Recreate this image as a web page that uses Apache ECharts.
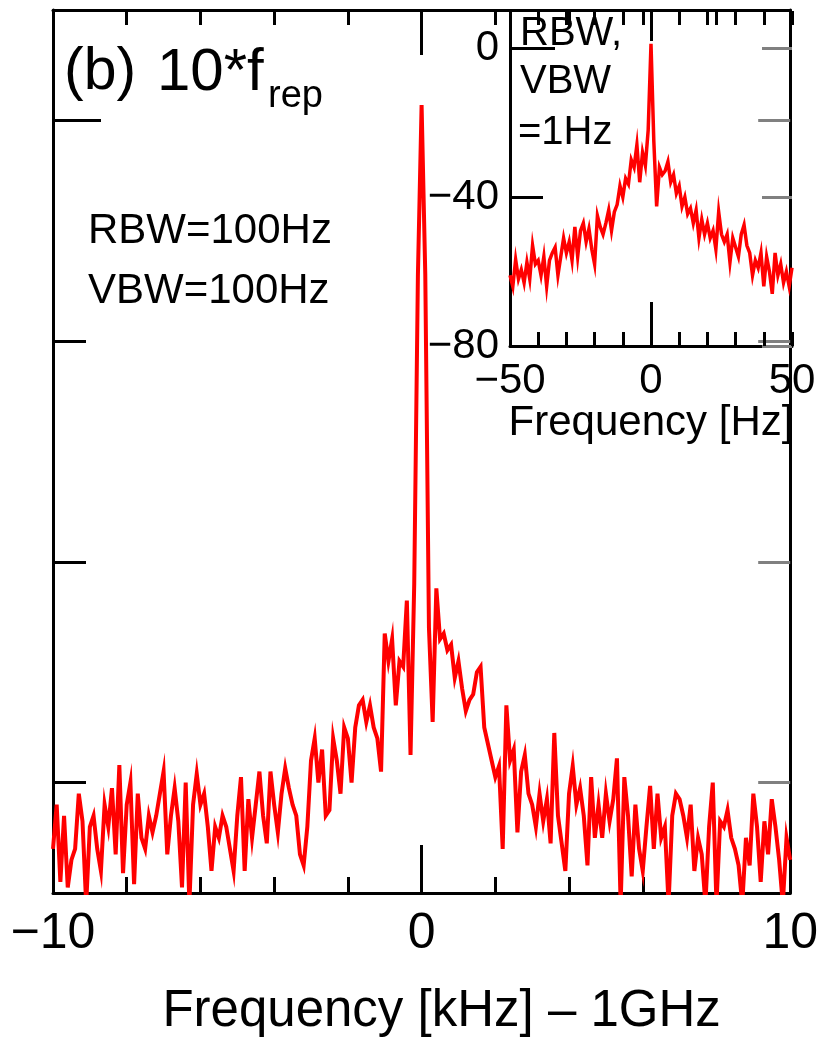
<!DOCTYPE html>
<html>
<head>
<meta charset="utf-8">
<script src="https://cdn.jsdelivr.net/npm/echarts@6/dist/echarts.min.js"></script>
<style>
  html, body { margin: 0; padding: 0; background: #fff; }
  #chart { width: 821px; height: 1042px; }
</style>
</head>
<body>
<div id="chart"></div>
<script>
var chart = echarts.init(document.getElementById('chart'));

// main trace: level (dB) sampled every 0.1 kHz from -10 kHz
var mainStartKHz = -10;
var mainStepKHz = 0.1;
var mainLevelDb = [
    -66, -62, -69, -63, -69.5, -67, -66, -61, -63.5, -71,
    -64, -63, -66, -68, -62, -64, -60.5, -66.5, -58.4, -68.2,
    -62, -60, -69.2, -61, -65, -66, -63, -64.5, -63, -61,
    -59, -66.5, -63, -60.5, -63.5, -69.5, -60, -71, -62, -59.2,
    -62, -61, -64, -68, -64, -65, -63, -64, -66, -68,
    -63, -59.5, -68, -61.5, -65, -62, -59, -63, -65.5, -59,
    -62, -64.5, -61, -58.7, -60.5, -62, -63, -66.5, -67.5, -64,
    -58, -56, -60, -57, -63, -62.5, -56, -58, -61, -55,
    -56, -60, -55, -53, -52.5, -54.5, -53, -55, -56, -59,
    -46.5, -49, -47, -53, -49, -49.5, -43.5, -57.5, -42, -14,
    1.4, -14, -46, -54.5, -42.4, -47, -46.5, -48, -47.5, -50.5,
    -49, -51.5, -53.5, -52.5, -52, -50, -49.5, -55, -56.5, -58,
    -59.5, -58.5, -66, -53, -58, -57, -64.5, -59, -57.5, -61,
    -62, -64, -61, -63.5, -61.5, -65.5, -55.5, -63, -65.5, -68,
    -61, -58.5, -62, -60.5, -63, -67.5, -59.5, -65, -62, -65,
    -61, -63.5, -61.5, -57.8, -71, -59.5, -63, -68.5, -62, -66,
    -68, -64, -60.3, -66, -61, -65, -64, -71, -63, -61,
    -61.5, -63, -65, -62, -68, -65, -66.5, -71, -64, -60,
    -71, -63.5, -64, -62.5, -65, -66, -67.5, -71, -65, -67.5,
    -61, -64, -69, -63.5, -66.5, -61.5, -64, -67, -71, -65,
    -67
];

// inset trace: level (dB) sampled every 1 Hz from -50 Hz
var insetStartHz = -50;
var insetStepHz = 1;
var insetLevelDb = [
    -61, -64, -56.8, -62, -59.5, -63, -57.5, -62, -53, -58,
    -57, -61, -56, -64, -57, -55, -53.5, -61, -56, -51,
    -55, -52, -57, -48, -56, -49, -47, -52, -48.5, -54,
    -58, -45, -48, -50, -47, -43.5, -49, -44, -42, -37,
    -40, -35, -36.5, -30, -32, -26, -36, -28, -31.5, -22,
    1.2, -25, -42.5, -32, -34, -33, -30.5, -36, -34, -39,
    -37, -42.5, -40, -44.5, -43, -47, -43.5, -51, -46, -50,
    -47, -51, -49, -54, -44, -50, -52, -50, -57.5, -51,
    -53.5, -56, -50, -47.5, -53, -55, -61, -57, -59, -55,
    -64, -56, -60, -66, -55, -61, -58, -63, -60, -64,
    -59
];

var mainXLabels = [-10, 0, 10];
var mainYTicks = [-60, -40, -20, 0];
var insetXLabels = [-50, 0, 50];
var insetYLabels = [0, -40, -80];

var mainData = mainLevelDb.map(function (v, i) {
    return [mainStartKHz + i * mainStepKHz, v];
});
var insetData = insetLevelDb.map(function (v, i) {
    return [insetStartHz + i * insetStepHz, v];
});

var FONT = '"Liberation Sans", Arial, Helvetica, sans-serif';
var blackLine = { show: true, onZero: false, lineStyle: { color: '#000', width: 3 } };
var noLine = { show: false, onZero: false };
var noLabel = { show: false };
var noSplit = { show: false };

function minus(v) {
    return String(v).replace('-', '\u2212');
}

// extra axes that only draw a few ticks
function tickOnlyX(grid, pos, min, max, values, len) {
    return {
        type: 'value', gridIndex: grid, position: pos, min: min, max: max,
        axisLine: noLine, axisLabel: noLabel, splitLine: noSplit,
        axisTick: { show: true, inside: true, length: len, customValues: values,
            lineStyle: { color: '#000', width: 3 } }
    };
}
function tickOnlyY(grid, pos, min, max, values, len, color) {
    return {
        type: 'value', gridIndex: grid, position: pos, min: min, max: max,
        axisLine: noLine, axisLabel: noLabel, splitLine: noSplit,
        axisTick: { show: true, inside: true, length: len, customValues: values,
            lineStyle: { color: color || '#000', width: 3 } }
    };
}

option = {
    animation: false,
    backgroundColor: '#fff',
    grid: [
        { left: 53, right: 29, top: 10, bottom: 146 },
        { left: 510, right: 29, top: 11, height: 335 }
    ],
    xAxis: [
        // 0: main bottom
        {
            type: 'value', gridIndex: 0, position: 'bottom', min: -10, max: 10, interval: 2,
            axisLine: blackLine, splitLine: noSplit,
            axisTick: { inside: true, length: 16, lineStyle: { color: '#000', width: 3 } },
            axisLabel: {
                customValues: mainXLabels, fontSize: 50, fontFamily: FONT, color: '#000', margin: 16,
                formatter: minus
            },
            name: 'Frequency [kHz] \u2013 1GHz', nameLocation: 'middle', nameGap: 93,
            nameTextStyle: { fontSize: 51, fontFamily: FONT, color: '#000', padding: [0, 0, 0, 40] }
        },
        // 1: main bottom tall tick at 0
        tickOnlyX(0, 'bottom', -10, 10, [0], 48),
        // 2: main top
        {
            type: 'value', gridIndex: 0, position: 'top', min: -10, max: 10, interval: 2,
            axisLine: blackLine, splitLine: noSplit, axisLabel: noLabel,
            axisTick: { inside: true, length: 15, lineStyle: { color: '#000', width: 3 } }
        },
        // 3: main top tall tick at 0
        tickOnlyX(0, 'top', -10, 10, [0], 45),
        // 4: inset bottom
        {
            type: 'value', gridIndex: 1, position: 'bottom', min: -50, max: 50, interval: 10,
            axisLine: blackLine, splitLine: noSplit,
            axisTick: { inside: true, length: 14, lineStyle: { color: '#000', width: 3 } },
            axisLabel: {
                customValues: insetXLabels, fontSize: 42, fontFamily: FONT, color: '#000', margin: 14,
                formatter: minus
            },
            name: 'Frequency [Hz]', nameLocation: 'middle', nameGap: 51,
            nameTextStyle: { fontSize: 42, fontFamily: FONT, color: '#000' }
        },
        // 5: inset bottom tall tick at 0
        tickOnlyX(1, 'bottom', -50, 50, [0], 44),
        // 6: inset top
        {
            type: 'value', gridIndex: 1, position: 'top', min: -50, max: 50, interval: 10,
            axisLine: noLine, splitLine: noSplit, axisLabel: noLabel,
            axisTick: { inside: true, length: 14, lineStyle: { color: '#000', width: 3 } }
        },
        // 7: inset top tall tick at 0
        tickOnlyX(1, 'top', -50, 50, [0], 30)
    ],
    yAxis: [
        // 0: main left
        {
            type: 'value', gridIndex: 0, position: 'left', min: -70, max: 10,
            axisLine: blackLine, splitLine: noSplit, axisLabel: noLabel,
            axisTick: { inside: true, length: 33, customValues: [-60, -40, -20],
                lineStyle: { color: '#000', width: 3 } }
        },
        // 1: main left long tick
        tickOnlyY(0, 'left', -70, 10, [0], 48),
        // 2: main right, grey ticks
        {
            type: 'value', gridIndex: 0, position: 'right', min: -70, max: 10,
            axisLine: blackLine, splitLine: noSplit, axisLabel: noLabel,
            axisTick: { inside: true, length: 32, customValues: mainYTicks,
                lineStyle: { color: '#808080', width: 3 } }
        },
        // 3: inset left
        {
            type: 'value', gridIndex: 1, position: 'left', min: -80, max: 10,
            axisLine: blackLine, splitLine: noSplit,
            axisTick: { inside: true, length: 33, customValues: [-40],
                lineStyle: { color: '#000', width: 3 } },
            axisLabel: {
                customValues: insetYLabels, fontSize: 42, fontFamily: FONT, color: '#000', margin: 11,
                formatter: minus
            }
        },
        // 4: inset left tick at 0
        tickOnlyY(1, 'left', -80, 10, [0], 45),
        // 5: inset right, grey ticks
        tickOnlyY(1, 'right', -80, 10, [0, -40, -80], 30, '#808080')
    ],
    graphic: [
        { type: 'text', x: 64, y: 73, style: { text: '(b)', font: '59px ' + FONT, fill: '#000', textVerticalAlign: 'middle' } },
        { type: 'text', x: 157, y: 73, style: { text: '10*f', font: '60px ' + FONT, fill: '#000', textVerticalAlign: 'middle' } },
        { type: 'text', x: 268, y: 97, style: { text: 'rep', font: '38px ' + FONT, fill: '#000', textVerticalAlign: 'middle' } },
        { type: 'text', x: 88, y: 231, style: { text: 'RBW=100Hz', font: '42px ' + FONT, fill: '#000', textVerticalAlign: 'middle' } },
        { type: 'text', x: 88, y: 291, style: { text: 'VBW=100Hz', font: '42px ' + FONT, fill: '#000', textVerticalAlign: 'middle' } },
        { type: 'text', x: 520, y: 34, style: { text: 'RBW,', font: '40px ' + FONT, fill: '#000', textVerticalAlign: 'middle' } },
        { type: 'text', x: 520, y: 82, style: { text: 'VBW', font: '40px ' + FONT, fill: '#000', textVerticalAlign: 'middle' } },
        { type: 'text', x: 518, y: 133, style: { text: '=1Hz', font: '40px ' + FONT, fill: '#000', textVerticalAlign: 'middle' } }
    ],
    series: [
        {
            name: 'main', type: 'line', xAxisIndex: 0, yAxisIndex: 0,
            data: mainData, showSymbol: false, clip: true,
            lineStyle: { color: '#ff0000', width: 4, join: 'miter' }
        },
        {
            name: 'inset', type: 'line', xAxisIndex: 4, yAxisIndex: 3,
            data: insetData, showSymbol: false, clip: true,
            lineStyle: { color: '#ff0000', width: 3.5, join: 'miter' }
        }
    ]
};

chart.setOption(option);
</script>
</body>
</html>
